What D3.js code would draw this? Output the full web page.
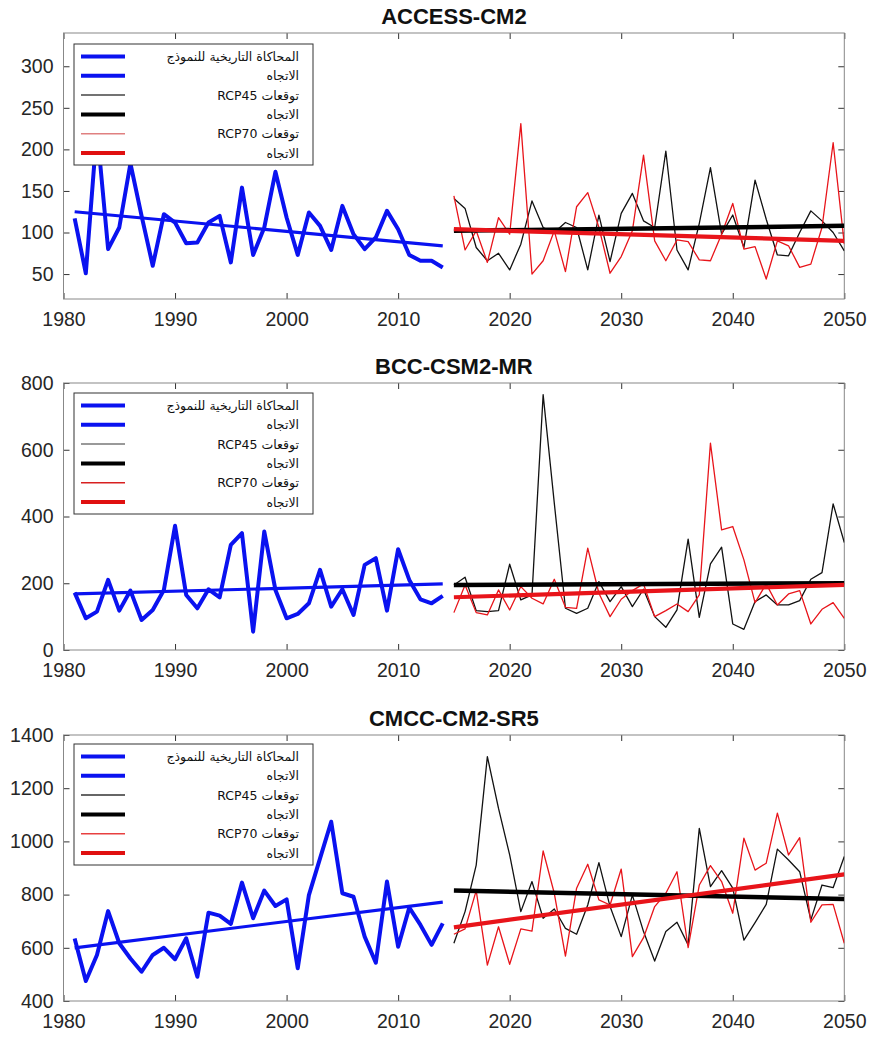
<!DOCTYPE html>
<html>
<head>
<meta charset="utf-8">
<script src="https://cdn.jsdelivr.net/npm/d3@7"></script>
<style>
  body { margin: 0; background: #fff; }
  svg { display: block; }
</style>
</head>
<body>
<div id="chart"></div>
<script>
// **************** Data ****************
const histYears = d3.range(1981, 2015);
const projYears = d3.range(2015, 2051);
const xTicks = [1980, 1990, 2000, 2010, 2020, 2030, 2040, 2050];

const legendLabels = [
  'المحاكاة التاريخية للنموذج',
  'الاتجاه',
  'توقعات RCP45',
  'الاتجاه',
  'توقعات RCP70',
  'الاتجاه'
];

// ACCESS-CM2
const accessHist = [117, 51, 225, 80, 106, 183, 120, 60, 122, 112, 87, 88, 112, 120, 64, 154, 73,
  106, 173, 118, 73, 124, 108, 79, 132, 98, 80, 94, 126, 104, 73, 66, 66, 58];
const accessRcp45 = [141, 129, 82, 66, 75, 55, 86, 138, 106, 100, 112, 106, 55, 121, 65, 123, 147, 114,
  106, 198, 79, 55, 111, 178, 98, 121, 82, 163, 116, 73, 72, 100, 126, 114, 100, 78];
const accessRcp70 = [144, 79, 102, 64, 118, 98, 231, 50, 66, 102, 53, 131, 148, 106, 51, 71, 102, 193,
  90, 66, 91, 89, 67, 66, 98, 135, 80, 83, 44, 90, 84, 58, 62, 106, 208, 86];
const accessHistTrend = [125, 84];
const accessRcp45Trend = [102, 108];
const accessRcp70Trend = [104, 90];
const accessYTicks = [50, 100, 150, 200, 250, 300];

// BCC-CSM2-MR
const bccHist = [172, 95, 115, 210, 118, 178, 90, 120, 180, 372, 165, 125, 182, 158, 315, 350, 55,
  355, 180, 95, 108, 140, 240, 130, 182, 105, 255, 275, 118, 302, 210, 152, 140, 162];
const bccRcp45 = [195, 218, 118, 115, 118, 257, 150, 165, 765, 440, 125, 110, 125, 205, 145, 190, 130, 182,
  100, 68, 120, 332, 98, 258, 308, 78, 62, 145, 165, 135, 135, 148, 212, 232, 438, 322];
const bccRcp70 = [112, 195, 112, 105, 180, 120, 190, 155, 138, 212, 128, 125, 305, 170, 100, 152, 178, 198,
  100, 118, 138, 115, 165, 620, 360, 370, 270, 142, 198, 135, 168, 178, 78, 122, 142, 95];
const bccHistTrend = [168, 198];
const bccRcp45Trend = [195, 200];
const bccRcp70Trend = [158, 195];
const bccYTicks = [0, 200, 400, 600, 800];

// CMCC-CM2-SR5
const cmccHist = [635, 475, 573, 738, 617, 560, 510, 573, 600, 557, 636, 491, 732, 721, 690, 845, 711,
  815, 757, 782, 523, 798, 936, 1074, 805, 792, 642, 544, 849, 604, 751, 686, 611, 692];
const cmccRcp45 = [617, 736, 911, 1319, 1124, 949, 736, 849, 711, 746, 673, 651, 761, 920, 755, 642, 798, 661,
  550, 661, 696, 611, 1049, 830, 890, 824, 629, 695, 763, 971, 930, 886, 705, 836, 826, 943];
const cmccRcp70 = [651, 671, 815, 535, 679, 538, 671, 663, 964, 805, 569, 824, 914, 780, 761, 896, 567, 638,
  755, 805, 886, 601, 836, 909, 849, 730, 1012, 892, 918, 1106, 949, 1014, 696, 761, 763, 617];
const cmccHistTrend = [600, 772];
const cmccRcp45Trend = [815, 783];
const cmccRcp70Trend = [677, 876];
const cmccYTicks = [400, 600, 800, 1000, 1200, 1400];

// **************** Layout ****************
const width = 869;
const height = 1037;
const left = 63.5;
const right = 844.3;

const panels = [
  { title: 'ACCESS-CM2', hist: accessHist, rcp45: accessRcp45, rcp70: accessRcp70,
    histTrend: accessHistTrend, rcp45Trend: accessRcp45Trend, rcp70Trend: accessRcp70Trend,
    yDomain: [20, 340], yTicks: accessYTicks, top: 33, bottom: 299, legendTop: 44,
    rcp45Legend: '#444', rcp70Legend: '#e08080' },
  { title: 'BCC-CSM2-MR', hist: bccHist, rcp45: bccRcp45, rcp70: bccRcp70,
    histTrend: bccHistTrend, rcp45Trend: bccRcp45Trend, rcp70Trend: bccRcp70Trend,
    yDomain: [0, 800], yTicks: bccYTicks, top: 383, bottom: 650, legendTop: 393,
    rcp45Legend: '#777', rcp70Legend: '#d82020' },
  { title: 'CMCC-CM2-SR5', hist: cmccHist, rcp45: cmccRcp45, rcp70: cmccRcp70,
    histTrend: cmccHistTrend, rcp45Trend: cmccRcp45Trend, rcp70Trend: cmccRcp70Trend,
    yDomain: [400, 1400], yTicks: cmccYTicks, top: 735, bottom: 1001, legendTop: 744,
    rcp45Legend: '#333', rcp70Legend: '#e84040' }
];

const blue = '#0a12f0';
const red = '#e8141a';

let svg = d3.select('#chart').append('svg')
  .attr('width', width)
  .attr('height', height);

let x = d3.scaleLinear().domain([1980, 2050]).range([left, right]);

panels.forEach(function (p, i) {
  drawPanel(p, i);
});

function drawPanel(p, i) {
  let y = d3.scaleLinear().domain(p.yDomain).range([p.bottom, p.top]);
  let g = svg.append('g');

  // clip the series to the axes box
  g.append('clipPath')
    .attr('id', 'clip' + i)
    .append('rect')
    .attr('x', left)
    .attr('y', p.top)
    .attr('width', right - left)
    .attr('height', p.bottom - p.top);

  // title
  g.append('text')
    .attr('x', (left + right) / 2)
    .attr('y', p.top - 9.5)
    .attr('text-anchor', 'middle')
    .attr('font-family', 'Liberation Sans, Arial, sans-serif')
    .attr('font-weight', 'bold')
    .attr('font-size', 22)
    .attr('fill', '#111')
    .text(p.title);

  // axes (MATLAB style: ticks inside, box on)
  let tickFont = function (sel) {
    sel.select('.domain').remove();
    sel.selectAll('text')
      .attr('font-family', 'Liberation Sans, Arial, sans-serif')
      .attr('font-size', 19.5)
      .attr('fill', '#262626');
    sel.selectAll('line').attr('stroke', '#333');
  };

  g.append('g')
    .attr('transform', 'translate(0,' + p.bottom + ')')
    .call(d3.axisBottom(x).tickValues(xTicks).tickFormat(d3.format('d'))
      .tickSizeInner(-6).tickPadding(13))
    .call(tickFont);

  g.append('g')
    .attr('transform', 'translate(0,' + p.top + ')')
    .call(d3.axisTop(x).tickValues(xTicks).tickSizeInner(-6).tickFormat(''))
    .call(tickFont);

  g.append('g')
    .attr('transform', 'translate(' + left + ',0)')
    .call(d3.axisLeft(y).tickValues(p.yTicks).tickFormat(d3.format('d'))
      .tickSizeInner(-6).tickPadding(10))
    .call(tickFont);

  g.append('g')
    .attr('transform', 'translate(' + right + ',0)')
    .call(d3.axisRight(y).tickValues(p.yTicks).tickSizeInner(-6).tickFormat(''))
    .call(tickFont);

  g.append('rect')
    .attr('x', left)
    .attr('y', p.top)
    .attr('width', right - left)
    .attr('height', p.bottom - p.top)
    .attr('fill', 'none')
    .attr('stroke', '#888')
    .attr('stroke-width', 1);

  let line = d3.line()
    .x(function (d) { return x(d[0]); })
    .y(function (d) { return y(d[1]); });

  let plot = g.append('g').attr('clip-path', 'url(#clip' + i + ')');

  function series(years, values, color, w) {
    plot.append('path')
      .datum(years.map(function (yr, k) { return [yr, values[k]]; }))
      .attr('d', line)
      .attr('fill', 'none')
      .attr('stroke', color)
      .attr('stroke-width', w)
      .attr('stroke-linejoin', 'round');
  }

  function trend(years, ends, color, w) {
    series([years[0], years[years.length - 1]], ends, color, w);
  }

  series(histYears, p.hist, blue, 4);
  trend(histYears, p.histTrend, blue, 3.2);
  series(projYears, p.rcp45, '#111', 1.3);
  series(projYears, p.rcp70, red, 1.3);
  trend(projYears, p.rcp45Trend, '#000', 4.5);
  trend(projYears, p.rcp70Trend, red, 4.2);

  // **************** Legend ****************
  let legend = g.append('g');
  legend.append('rect')
    .attr('x', 74)
    .attr('y', p.legendTop)
    .attr('width', 239)
    .attr('height', 121)
    .attr('fill', '#fff')
    .attr('stroke', '#333')
    .attr('stroke-width', 1);

  let styles = [
    { color: blue, w: 4 },
    { color: blue, w: 4 },
    { color: p.rcp45Legend, w: 1.5 },
    { color: '#000', w: 4 },
    { color: p.rcp70Legend, w: 1.5 },
    { color: '#e01010', w: 4 }
  ];

  legendLabels.forEach(function (label, k) {
    let ly = p.legendTop + 12.5 + k * 19.3;
    legend.append('line')
      .attr('x1', 81)
      .attr('x2', 125)
      .attr('y1', ly)
      .attr('y2', ly)
      .attr('stroke', styles[k].color)
      .attr('stroke-width', styles[k].w);
    legend.append('text')
      .attr('x', 299)
      .attr('y', ly + 4.5)
      .attr('text-anchor', 'start')
      .attr('direction', 'rtl')
      .attr('font-family', 'DejaVu Sans, sans-serif')
      .attr('font-size', 12.5)
      .attr('fill', '#111')
      .text(label);
  });
}
</script>
</body>
</html>
